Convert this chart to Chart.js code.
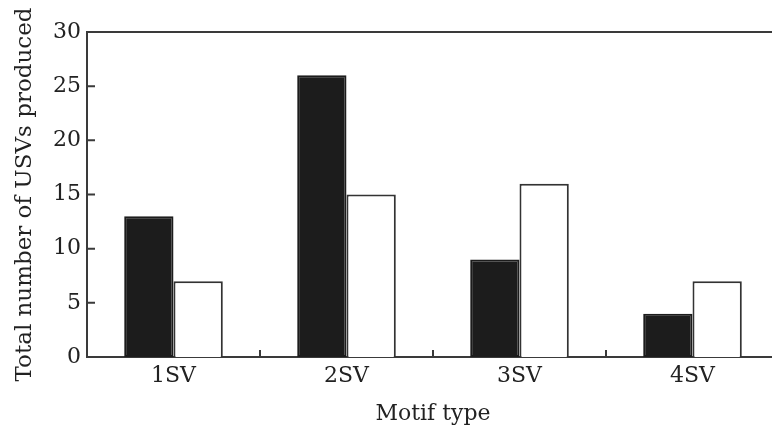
<!DOCTYPE html>
<html>
  <head>
    <meta charset="utf-8" />
    <title>Motif type USVs</title>
    <style>
      html, body { margin: 0; padding: 0; overflow: hidden; background: #fff; }
      #wrap { width: 790px; height: 432px; }
    </style>
  </head>
  <body>
    <div id="wrap"><canvas id="chart" width="790" height="432"></canvas></div>
    <script src="https://cdn.jsdelivr.net/npm/chart.js@4.4.0/dist/chart.umd.min.js"></script>
    <script>
      const categories = ["1SV", "2SV", "3SV", "4SV"];
      const blackValues = [13, 26, 9, 4];
      const whiteValues = [7, 15, 16, 7];
      const yTicks = [0, 5, 10, 15, 20, 25, 30];

      const axisColor = "#3a3a3a";
      const fontFamily = "'DejaVu Serif', 'Liberation Serif', serif";

      // inward ticks + open top border line
      const frameTicks = {
        id: "frameTicks",
        afterDraw(chart) {
          const ctx = chart.ctx;
          const area = chart.chartArea;
          const x = chart.scales.x;
          const y = chart.scales.y;
          ctx.save();
          ctx.strokeStyle = axisColor;
          ctx.lineWidth = 2;
          ctx.beginPath();
          ctx.moveTo(area.left, area.top);
          ctx.lineTo(chart.width, area.top);
          yTicks.forEach((v) => {
            if (v === 0 || v === 30) return;
            const py = y.getPixelForValue(v);
            ctx.moveTo(area.left, py);
            ctx.lineTo(area.left + 8, py);
          });
          for (let i = 0; i < categories.length - 1; i++) {
            const px = (x.getPixelForValue(i) + x.getPixelForValue(i + 1)) / 2;
            ctx.moveTo(px, area.bottom);
            ctx.lineTo(px, area.bottom - 7);
          }
          ctx.stroke();
          ctx.restore();
        },
      };

      const ctx = document.getElementById("chart").getContext("2d");
      new Chart(ctx, {
        type: "bar",
        data: {
          labels: categories,
          datasets: [
            {
              label: "black",
              data: blackValues,
              backgroundColor: "#1c1c1c",
              borderColor: "#1c1c1c",
              borderWidth: 2,
              borderSkipped: false,
              categoryPercentage: 0.57,
              barPercentage: 1.0,
            },
            {
              label: "white",
              data: whiteValues,
              backgroundColor: "#ffffff",
              borderColor: "#333333",
              borderWidth: 2,
              borderSkipped: "bottom",
              categoryPercentage: 0.57,
              barPercentage: 1.0,
            },
          ],
        },
        options: {
          responsive: false,
          animation: false,
          layout: { padding: { top: 32, right: 11, left: 0, bottom: 0 } },
          plugins: {
            legend: { display: false },
            tooltip: { enabled: false },
          },
          scales: {
            x: {
              grid: { display: false, drawTicks: false },
              border: { display: true, color: axisColor, width: 2 },
              ticks: {
                color: "#222",
                padding: 6,
                font: { family: fontFamily, size: 22 },
              },
              title: {
                display: true,
                text: "Motif type",
                color: "#222",
                padding: { top: 4, bottom: 5 },
                font: { family: fontFamily, size: 22 },
              },
              afterFit(scale) {
                scale.height = 75;
              },
            },
            y: {
              min: 0,
              max: 30,
              afterBuildTicks(scale) {
                scale.ticks = yTicks.map((v) => ({ value: v }));
              },
              grid: { display: false, drawTicks: false },
              border: { display: true, color: axisColor, width: 2 },
              ticks: {
                color: "#222",
                padding: 6,
                font: { family: fontFamily, size: 22 },
              },
              title: {
                display: true,
                text: "Total number of USVs produced",
                color: "#222",
                padding: { top: 11, bottom: 0 },
                font: { family: fontFamily, size: 23 },
              },
              afterFit(scale) {
                scale.width = 87;
              },
            },
          },
        },
        plugins: [frameTicks],
      });
    </script>
  </body>
</html>
